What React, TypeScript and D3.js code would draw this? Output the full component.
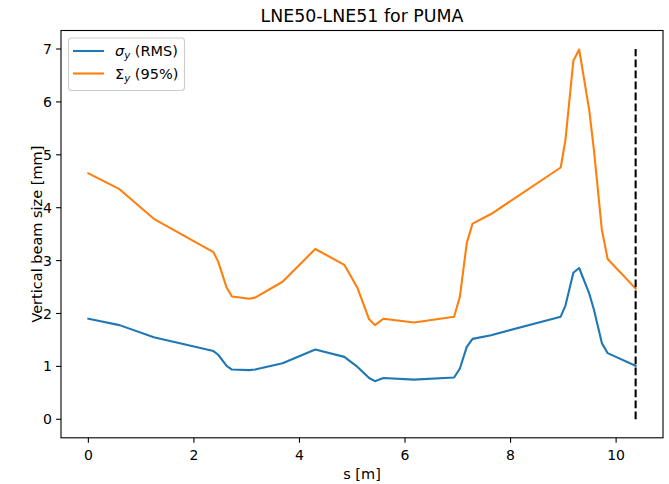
import React from "react";
import * as d3 from "d3";

const sValues = [0, 0.59, 1.24, 2.37, 2.46, 2.62, 2.72, 3.05, 3.16, 3.68, 4.3, 4.85, 5.1, 5.32, 5.43, 5.59, 6.17, 6.93, 7.04, 7.17, 7.28, 7.63, 8.95, 9.04, 9.19, 9.3, 9.49, 9.58, 9.73, 9.84, 10.37];
const sigmaRms = [1.9, 1.78, 1.55, 1.29, 1.22, 1.01, 0.94, 0.93, 0.94, 1.06, 1.32, 1.18, 0.99, 0.78, 0.72, 0.78, 0.75, 0.79, 0.96, 1.37, 1.52, 1.59, 1.94, 2.15, 2.77, 2.86, 2.38, 2.07, 1.44, 1.25, 1.01];
const sigma95 = [4.65, 4.35, 3.79, 3.16, 2.98, 2.49, 2.32, 2.28, 2.3, 2.6, 3.22, 2.92, 2.48, 1.89, 1.78, 1.9, 1.83, 1.94, 2.32, 3.33, 3.7, 3.88, 4.76, 5.28, 6.78, 6.99, 5.85, 5.09, 3.58, 3.03, 2.47];
const markerS = 10.37;
const markerY = [0, 7];
const xTicks = [0, 2, 4, 6, 8, 10];
const yTicks = [0, 1, 2, 3, 4, 5, 6, 7];

const W = 669;
const H = 484;
const L = 61, R = 663, T = 30.5, B = 437.8;
const FONT = "DejaVu Sans, sans-serif";

export default function App() {
  const xMin = 0, xMax = markerS;
  const xPad = (xMax - xMin) * 0.05;
  const yMin = 0, yMax = 7;
  const yPad = (yMax - yMin) * 0.05;
  const x = d3.scaleLinear().domain([xMin - xPad, xMax + xPad]).range([L, R]);
  const y = d3.scaleLinear().domain([yMin - yPad, yMax + yPad]).range([B, T]);
  const line = d3
    .line<[number, number]>()
    .x((d) => x(d[0]))
    .y((d) => y(d[1]));
  const blue = line(sValues.map((s, i) => [s, sigmaRms[i]] as [number, number])) || "";
  const orange = line(sValues.map((s, i) => [s, sigma95[i]] as [number, number])) || "";
  const cx = (L + R) / 2;
  const cy = (T + B) / 2;

  return (
    <svg
      width={W}
      height={H}
      style={{ position: "absolute", left: 0, top: 0, background: "#fff" }}
      fontFamily={FONT}
    >
      <rect x={0} y={0} width={W} height={H} fill="#fff" />
      <text x={cx} y={22} textAnchor="middle" fontSize={17.4} fill="#000">
        LNE50-LNE51 for PUMA
      </text>
      <path d={blue} fill="none" stroke="#1f77b4" strokeWidth={2.1} strokeLinejoin="round" strokeLinecap="square" />
      <path d={orange} fill="none" stroke="#ff7f0e" strokeWidth={2.1} strokeLinejoin="round" strokeLinecap="square" />
      <line
        x1={x(markerS)}
        x2={x(markerS)}
        y1={y(markerY[0])}
        y2={y(markerY[1])}
        stroke="#000"
        strokeWidth={2.1}
        strokeDasharray="7.7,3.3"
      />
      <rect x={L} y={T} width={R - L} height={B - T} fill="none" stroke="#000" strokeWidth={1.1} />
      {xTicks.map((t) => (
        <g key={"x" + t}>
          <line x1={x(t)} x2={x(t)} y1={B} y2={B + 4.9} stroke="#000" strokeWidth={1.1} />
          <text x={x(t)} y={460} textAnchor="middle" fontSize={14} fill="#000">
            {t}
          </text>
        </g>
      ))}
      {yTicks.map((t) => (
        <g key={"y" + t}>
          <line x1={L - 4.9} x2={L} y1={y(t)} y2={y(t)} stroke="#000" strokeWidth={1.1} />
          <text x={52} y={y(t)} dy="0.36em" textAnchor="end" fontSize={14} fill="#000">
            {t}
          </text>
        </g>
      ))}
      <text x={cx} y={479} textAnchor="middle" fontSize={14.5} fill="#000">
        s [m]
      </text>
      <text
        transform={`translate(41.5,${cy}) rotate(-90)`}
        textAnchor="middle"
        fontSize={14.5}
        fill="#000"
      >
        Vertical beam size [mm]
      </text>
      <g>
        <rect x={68.5} y={38} width={116} height={52.5} rx={3} fill="#fff" fillOpacity={0.8} stroke="#cccccc" strokeWidth={1.1} />
        <line x1={73} x2={104} y1={51} y2={51} stroke="#1f77b4" strokeWidth={2.1} />
        <line x1={73} x2={104} y1={73.5} y2={73.5} stroke="#ff7f0e" strokeWidth={2.1} />
        <text x={115} y={56} fontSize={14.5} fill="#000">
          <tspan fontStyle="italic">σ</tspan>
          <tspan fontStyle="italic" fontSize={10.2} dy={3}>y</tspan>
          <tspan dy={-3}> (RMS)</tspan>
        </text>
        <text x={115} y={78.5} fontSize={14.5} fill="#000">
          <tspan>Σ</tspan>
          <tspan fontStyle="italic" fontSize={10.2} dy={3}>y</tspan>
          <tspan dy={-3}> (95%)</tspan>
        </text>
      </g>
    </svg>
  );
}
